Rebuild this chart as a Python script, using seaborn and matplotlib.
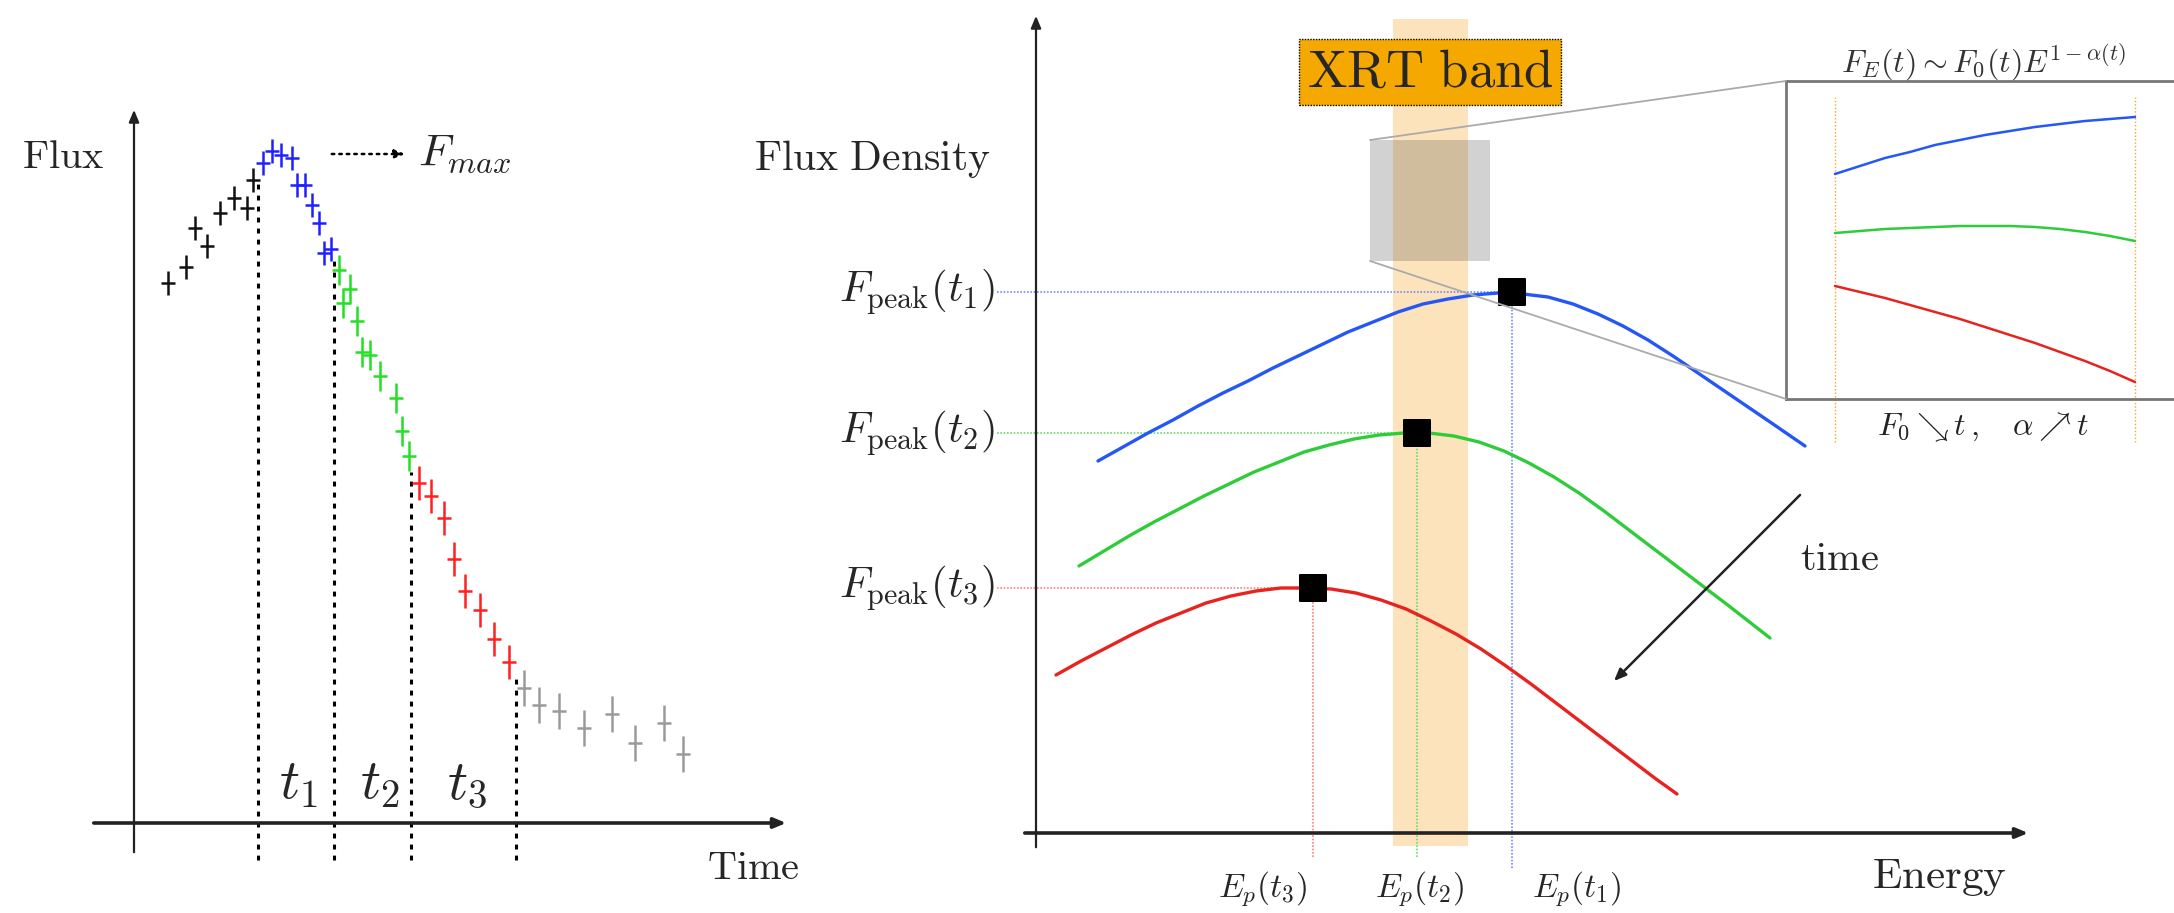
import matplotlib
matplotlib.use("Agg")
import matplotlib.pyplot as plt
from matplotlib.patches import Rectangle, ConnectionPatch
import seaborn as sns

sns.set_theme(style="white")
plt.rcParams["mathtext.fontset"] = "cm"
plt.rcParams["font.family"] = ["DejaVu Serif"]

# ==================== data: light curve (left) ====================
# time / flux in arbitrary units, origin at the axes crossing
t_black = [0.34, 0.52, 0.61, 0.73, 0.86, 1.00, 1.13, 1.19]
f_black = [5.40, 5.56, 5.95, 5.77, 6.10, 6.25, 6.15, 6.43]
t_blue = [1.29, 1.38, 1.47, 1.58, 1.63, 1.71, 1.78, 1.85, 1.90, 1.97]
f_blue = [6.60, 6.72, 6.68, 6.65, 6.38, 6.38, 6.18, 6.00, 5.70, 5.74]
t_green = [2.05, 2.16, 2.09, 2.23, 2.28, 2.36, 2.46, 2.62, 2.68, 2.75]
f_green = [5.53, 5.34, 5.20, 5.02, 4.71, 4.68, 4.47, 4.25, 3.92, 3.67]
t_red = [2.85, 2.97, 3.10, 3.20, 3.31, 3.46, 3.60, 3.75]
f_red = [3.40, 3.27, 3.05, 2.64, 2.32, 2.13, 1.84, 1.61]
t_gray = [3.90, 4.05, 4.25, 4.50, 4.78, 5.01, 5.30, 5.49]
f_gray = [1.35, 1.18, 1.12, 0.95, 1.09, 0.80, 1.00, 0.69]
err_flux = [0.12, 0.12, 0.15, 0.17, 0.18]   # per segment
err_time = 0.07

# interval boundaries (dashed lines) and labels
bound_t = [1.24, 2.00, 2.77, 3.82]
bound_f = [6.43, 5.63, 3.51, 1.46]
interval_labels = [r"$t_1$", r"$t_2$", r"$t_3$"]
interval_label_t = [1.64, 2.46, 3.33]

# ==================== data: spectra (right) ====================
e_blue = [0.62, 0.87, 1.12, 1.37, 1.62, 1.87, 2.12, 2.37, 2.62, 2.87, 3.12,
          3.37, 3.62, 3.87, 4.12, 4.37, 4.62, 4.87, 5.12, 5.37, 5.62, 5.87,
          6.12, 6.37, 6.62, 6.87, 7.12, 7.37, 7.69]
s_blue = [3.72, 3.86, 4.00, 4.13, 4.27, 4.40, 4.52, 4.65, 4.77, 4.89, 5.01,
          5.11, 5.21, 5.29, 5.34, 5.38, 5.40, 5.39, 5.36, 5.29, 5.19, 5.07,
          4.93, 4.77, 4.60, 4.43, 4.26, 4.09, 3.87]
e_green = [0.43, 0.68, 0.93, 1.18, 1.43, 1.68, 1.93, 2.18, 2.43, 2.68, 2.93,
           3.18, 3.43, 3.68, 3.93, 4.18, 4.43, 4.68, 4.93, 5.18, 5.43, 5.68,
           5.93, 6.18, 6.43, 6.68, 6.93, 7.34]
s_green = [2.67, 2.82, 2.97, 3.11, 3.24, 3.37, 3.49, 3.61, 3.71, 3.81, 3.88,
           3.94, 3.98, 4.00, 4.00, 3.97, 3.91, 3.82, 3.70, 3.56, 3.40, 3.22,
           3.03, 2.84, 2.65, 2.46, 2.27, 1.95]
e_red = [0.20, 0.45, 0.70, 0.95, 1.20, 1.45, 1.70, 1.95, 2.20, 2.45, 2.70,
         2.95, 3.20, 3.45, 3.70, 3.95, 4.20, 4.45, 4.70, 4.95, 5.20, 5.45,
         5.70, 5.95, 6.20, 6.41]
s_red = [1.58, 1.72, 1.85, 1.98, 2.10, 2.20, 2.30, 2.37, 2.42, 2.45, 2.45,
         2.44, 2.40, 2.33, 2.24, 2.12, 1.99, 1.84, 1.67, 1.49, 1.30, 1.11,
         0.92, 0.73, 0.54, 0.39]

e_peak = [4.76, 3.81, 2.77]
f_peak = [5.41, 4.00, 2.45]
peak_labels = [r"$F_{\rm peak}(t_1)$", r"$F_{\rm peak}(t_2)$", r"$F_{\rm peak}(t_3)$"]
ep_labels = [r"$E_p(t_1)$", r"$E_p(t_2)$", r"$E_p(t_3)$"]
ep_label_e = [5.40, 3.83, 2.26]

xrt_band = [3.57, 4.32]
zoom_box = [3.34, 4.54, 5.72, 6.93]   # E0, E1, F0, F1

# ==================== data: zoomed inset ====================
x_in = [0.49, 0.74, 0.99, 1.24, 1.49, 1.74, 1.99, 2.24, 2.49, 2.74, 2.99, 3.24, 3.49]
in_blue = [2.25, 2.33, 2.41, 2.47, 2.54, 2.59, 2.64, 2.68, 2.72, 2.75, 2.78, 2.80, 2.82]
in_green = [1.66, 1.68, 1.70, 1.71, 1.72, 1.73, 1.73, 1.73, 1.72, 1.70, 1.67, 1.63, 1.58]
in_red = [1.13, 1.07, 1.01, 0.94, 0.87, 0.80, 0.72, 0.64, 0.56, 0.47, 0.38, 0.28, 0.17]
in_edges = [0.49, 3.49]

c_blue, c_green, c_red = "#2457f5", "#2fcc3a", "#e8231e"
seg_colors = ["#111111", "#2020ff", "#22e022", "#ff2020", "#9a9a9a"]
W, H = 2174, 913

fig = plt.figure(figsize=(W / 100, H / 100), dpi=100)
fig.patch.set_facecolor("white")

# -------------------- left panel --------------------
axl = fig.add_axes([0, 0, 0.5, 1])
axl.set_xlim(-1.34, 9.53)
axl.set_ylim(-0.90, 8.23)
axl.axis("off")
axl.patch.set_alpha(0)

arrow_kw = dict(arrowstyle="-|>,head_length=0.6,head_width=0.25", color="#222222")
axl.annotate("", xy=(0, 7.16), xytext=(0, -0.32), annotation_clip=False,
             arrowprops=dict(lw=1.6, **arrow_kw))
axl.annotate("", xy=(6.55, 0), xytext=(-0.43, 0), annotation_clip=False,
             arrowprops=dict(lw=2.6, **arrow_kw))

axl.vlines(bound_t, -0.37, bound_f, colors="black", lw=2.2,
           linestyles=(0, (1.6, 2.0)))

segments = [(t_black, f_black), (t_blue, f_blue), (t_green, f_green),
            (t_red, f_red), (t_gray, f_gray)]
for (tt, ff), col, ef in zip(segments, seg_colors, err_flux):
    axl.errorbar(tt, ff, yerr=ef, xerr=err_time, fmt="none", ecolor=col,
                 elinewidth=1.8, capsize=0)

for lab, tx in zip(interval_labels, interval_label_t):
    axl.text(tx, 0.40, lab, fontsize=40, ha="center", va="center")

axl.text(-0.29, 6.66, r"$\mathrm{Flux}$", fontsize=29, ha="right", va="center")
axl.text(5.73, -0.45, r"$\mathrm{Time}$", fontsize=29, ha="left", va="center")
axl.annotate("", xy=(2.74, 6.69), xytext=(1.95, 6.69),
             arrowprops=dict(arrowstyle="-|>,head_length=0.5,head_width=0.2",
                             color="black", lw=1.8, ls=(0, (1, 2))))
axl.text(2.84, 6.69, r"$F_{max}$", fontsize=33, ha="left", va="center")

# -------------------- right panel --------------------
axr = fig.add_axes([740 / W, 0, 1 - 740 / W, 1])
axr.set_xlim(-2.96, 11.38)
axr.set_ylim(-0.80, 8.33)
axr.axis("off")
axr.patch.set_alpha(0)

axr.fill_between(xrt_band, -0.13, 8.14, color="#f9b13c", alpha=0.35, lw=0, zorder=1)
axr.add_patch(Rectangle((zoom_box[0], zoom_box[2]), zoom_box[1] - zoom_box[0],
                        zoom_box[3] - zoom_box[2], facecolor="#404040",
                        alpha=0.23, lw=0, zorder=2))

axr.annotate("", xy=(0, 8.20), xytext=(0, -0.17), annotation_clip=False,
             arrowprops=dict(lw=1.6, **arrow_kw))
axr.annotate("", xy=(9.95, 0), xytext=(-0.14, 0), annotation_clip=False,
             arrowprops=dict(lw=2.6, **arrow_kw))

light = ["#6f8dff", "#66dd66", "#ff8080"]
vbottom = [-0.35, -0.24, -0.24]
for ep, fp, lc, vb in zip(e_peak, f_peak, light, vbottom):
    axr.hlines(fp, -0.39, ep, colors=lc, lw=1.2, linestyles=(0, (1, 1)), zorder=2)
    axr.vlines(ep, vb, fp, colors=lc, lw=1.2, linestyles=(0, (1, 1)), zorder=2)

for ee, ss, col in [(e_blue, s_blue, c_blue), (e_green, s_green, c_green),
                    (e_red, s_red, c_red)]:
    sns.lineplot(x=ee, y=ss, ax=axr, color=col, lw=2.4, sort=False,
                 estimator=None, zorder=3, solid_joinstyle="round",
                 solid_capstyle="round")

sns.scatterplot(x=e_peak, y=f_peak, ax=axr, marker="s", s=330, color="black",
                edgecolor="black", zorder=5, legend=False)

for lab, fp in zip(peak_labels, f_peak):
    axr.text(-0.41, fp, lab, fontsize=31, ha="right", va="center")
for lab, ex in zip(ep_labels, ep_label_e):
    axr.text(ex, -0.56, lab, fontsize=24, ha="center", va="center")

axr.text(-0.45, 6.74, r"$\mathrm{Flux\ Density}$", fontsize=30, ha="right", va="center")
axr.text(8.36, -0.44, r"$\mathrm{Energy}$", fontsize=31, ha="left", va="center")

axr.text(3.94, 7.61, r"$\mathrm{XRT\ band}$", fontsize=38, ha="center",
         va="center", zorder=6,
         bbox=dict(boxstyle="square,pad=0.15", fc="#f5a800", ec="black",
                   ls=(0, (1, 1)), lw=1.0))

axr.annotate("", xy=(5.76, 1.50), xytext=(7.66, 3.40),
             arrowprops=dict(arrowstyle="-|>,head_length=0.6,head_width=0.25",
                             color="#222222", lw=1.8))
axr.text(7.64, 2.73, r"$\mathrm{time}$", fontsize=29, ha="left", va="center")

# -------------------- inset --------------------
axin = fig.add_axes([1786 / W, (H - 399) / H, (2190 - 1786) / W, (399 - 81) / H])
axin.set_xlim(0, 4.04)
axin.set_ylim(0, 3.18)
axin.set_xticks([])
axin.set_yticks([])
for side in ["left", "top", "bottom"]:
    axin.spines[side].set_color("#777777")
    axin.spines[side].set_linewidth(2)
axin.spines["right"].set_visible(False)

axin.vlines(in_edges, -0.43, 3.02, colors="#f5a623", lw=1.0,
            linestyles=(0, (1, 1.5)), clip_on=False)
for yy, col in [(in_blue, c_blue), (in_green, c_green), (in_red, c_red)]:
    sns.lineplot(x=x_in, y=yy, ax=axin, color=col, lw=1.8, sort=False,
                 estimator=None, solid_joinstyle="round")
axin.set_xlabel("")
axin.set_ylabel("")
axin.text(1.97, 3.37, r"$F_E(t) \sim F_0(t) E^{1-\alpha(t)}$", fontsize=23,
          color="#333333", ha="center", va="center", clip_on=False)
axin.text(1.97, -0.28, r"$F_0 \searrow t\,,\quad \alpha \nearrow t$", fontsize=23,
          color="#222222", ha="center", va="center", clip_on=False)

for xyA, xyB in [((zoom_box[0], zoom_box[3]), (0, 1)),
                 ((zoom_box[0], zoom_box[2]), (0, 0))]:
    con = ConnectionPatch(xyA=xyA, coordsA=axr.transData, xyB=xyB,
                          coordsB=axin.transAxes, color="#aaaaaa", lw=1.3)
    fig.add_artist(con)

axr.set_xlabel("")
axr.set_ylabel("")
fig.savefig("out.png", dpi=100, facecolor="white")
